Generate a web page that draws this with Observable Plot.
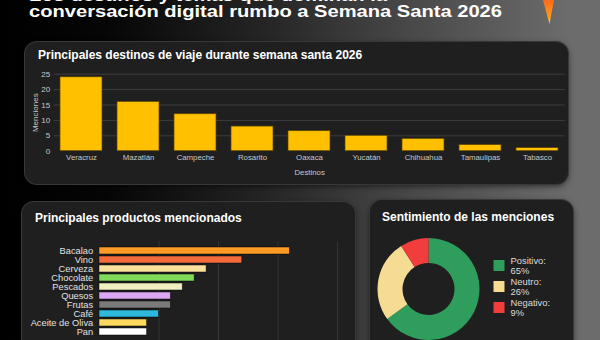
<!DOCTYPE html>
<html><head><meta charset="utf-8">
<script src="https://cdn.jsdelivr.net/npm/d3@7"></script>
<script src="https://cdn.jsdelivr.net/npm/@observablehq/plot@0.6"></script>
<style>
html,body{margin:0;padding:0;}
body{width:600px;height:340px;overflow:hidden;position:relative;
  background:linear-gradient(90deg,#000 0%,#060606 18%,#262626 45%,#444 65%,#6c6c6c 95%);
  font-family:"Liberation Sans",Arial,sans-serif;}
.panel{position:absolute;background:#1f1f1f;border-radius:12px;box-shadow:0 0 0 1px #383838,0 2px 6px rgba(0,0,0,.6);}
.ptitle{position:absolute;color:#fff;font-weight:bold;font-size:12px;line-height:12px;white-space:nowrap;}
.chart{position:absolute;}
#header{position:absolute;left:0;top:0;}
</style></head><body>
<svg id="header" width="600" height="30">
  <defs><linearGradient id="fl" x1="0" x2="0" y1="0" y2="1"><stop offset="0" stop-color="#ff6a1a"/><stop offset="0.7" stop-color="#ff9a1a"/><stop offset="1" stop-color="#ffd640"/></linearGradient></defs>
  <text x="29" y="0.6" fill="#fff" font-family="Liberation Sans, Arial, sans-serif" font-weight="bold" font-size="17" textLength="358" lengthAdjust="spacingAndGlyphs">Los destinos y temas que dominan la</text>
  <text x="29" y="17.3" fill="#fff" font-family="Liberation Sans, Arial, sans-serif" font-weight="bold" font-size="17" textLength="473" lengthAdjust="spacingAndGlyphs">conversación digital rumbo a Semana Santa 2026</text>
  <path d="M543,0 L554,0 L549.5,24 Z" fill="url(#fl)"/>
</svg>
<div class="panel" style="left:25px;top:42px;width:543px;height:142px;"></div>
<div class="panel" style="left:22px;top:202px;width:333px;height:160px;"></div>
<div class="panel" style="left:370px;top:200px;width:203px;height:160px;"></div>
<div class="ptitle" style="left:38px;top:49.4px;">Principales destinos de viaje durante semana santa 2026</div>
<div class="ptitle" style="left:35px;top:211.5px;">Principales productos mencionados</div>
<div class="ptitle" style="left:382px;top:210.8px;">Sentimiento de las menciones</div>
<div class="chart" id="c1" style="left:0;top:60px;"></div>
<div class="chart" id="c2" style="left:0;top:230px;"></div>
<div class="chart" id="c3" style="left:370px;top:228px;"></div>
<script>
// Data
const destinos = ["Veracruz","Mazatlán","Campeche","Rosarito","Oaxaca","Yucatán","Chihuahua","Tamaulipas","Tabasco"];
const menciones = [24,16,12,8,6.5,5,4,2,1];
const yTicks1 = [0,5,10,15,20,25];

const productos = ["Bacalao","Vino","Cerveza","Chocolate","Pescados","Quesos","Frutas","Café","Aceite de Oliva","Pan"];
const productoValores = [16,12,9,8,7,6,6,5,4,4];
const productoColores = ["#ff9a26","#f56a3a","#fbe19e","#7fd95a","#efefc0","#dba6f2","#7a7a7a","#2db8dc","#fcd95e","#ffffff"];
const xTicks2 = [5,10,15,20];

const sentimientos = ["Positivo","Neutro","Negativo"];
const sentPct = [65,26,9];
const sentColores = ["#2f9e5c","#f6dc92","#f23d3d"];

const font = "Liberation Sans, Arial, sans-serif";

// Chart 1
const d1 = destinos.map((d,i)=>({destino:d, menciones:menciones[i]}));
document.getElementById("c1").append(Plot.plot({
  width:600, height:125, marginTop:13.7, marginBottom:34.3, marginLeft:53.6, marginRight:35.3,
  style:{background:"transparent", color:"#c8c8c8", fontFamily:font, fontSize:"7.5px", overflow:"visible"},
  x:{domain:destinos, paddingInner:0.265, paddingOuter:0.1},
  y:{domain:[0,25]},
  marks:[
    Plot.gridY(yTicks1.slice(1), {stroke:"#4a4a4a", strokeOpacity:1, strokeWidth:0.7}),
    Plot.barY(d1, {x:"destino", y:"menciones", fill:"#ffc000", stroke:"#5a4300", strokeWidth:0.7}),
    Plot.axisX({tickSize:0, tickPadding:3, label:"Destinos", labelAnchor:"center", labelArrow:false, labelOffset:24, fontSize:7.8}),
    Plot.axisY(yTicks1, {tickSize:0, tickPadding:4, label:"Menciones", labelAnchor:"center", labelArrow:false, labelOffset:22, fontSize:8})
  ]
}));

// Chart 2
const d2 = productos.map((p,i)=>({producto:p, valor:productoValores[i]}));
document.getElementById("c2").append(Plot.plot({
  width:360, height:130, marginTop:11.3, marginBottom:20, marginLeft:99, marginRight:23,
  style:{background:"transparent", color:"#e2e2e2", fontFamily:font, fontSize:"9.3px", overflow:"visible"},
  x:{domain:[0,20], axis:null},
  y:{domain:productos, paddingInner:0.26, paddingOuter:0.1},
  color:{type:"ordinal", domain:productos, range:productoColores},
  marks:[
    Plot.gridX(xTicks2, {stroke:"#3a3a3a", strokeOpacity:1, strokeWidth:0.8}),
    Plot.barX(d2, {x:"valor", y:"producto", fill:"producto", stroke:"#000", strokeOpacity:0.6, strokeWidth:0.8}),
    Plot.axisY({tickSize:0, tickPadding:6.3, label:null, fontSize:9.3})
  ]
}));

// Chart 3 (donut + legend)
const d3data = sentimientos.map((s,i)=>({nombre:s, pct:sentPct[i]}));
function donut(index, scales) {
  const g = d3.create("svg:g").attr("transform","translate(58.5,61)");
  const arcs = d3.pie().sort(null).value(d=>d.pct)(d3data);
  const arc = d3.arc().innerRadius(26).outerRadius(51);
  g.selectAll("path").data(arcs).join("path").attr("d", arc).attr("fill", d=>scales.color(d.data.nombre));
  return g.node();
}
document.getElementById("c3").append(Plot.plot({
  width:203, height:112, marginTop:0, marginBottom:0, marginLeft:0, marginRight:0,
  style:{background:"transparent", color:"#ddd", fontFamily:font, overflow:"visible"},
  y:{type:"point", domain:sentimientos, range:[25,90.7], axis:null},
  color:{type:"ordinal", domain:sentimientos, range:sentColores},
  marks:[
    donut,
    Plot.dot(d3data, {y:"nombre", fill:"nombre", symbol:"square", r:6.2, frameAnchor:"left", dx:128.5}),
    Plot.text(d3data, {y:"nombre", text:d=>`${d.nombre}:\n${d.pct}%`, frameAnchor:"left", dx:140, textAnchor:"start", lineAnchor:"middle", lineHeight:1.05, fontSize:9.4, fill:"#dcdcdc"})
  ]
}));
</script>
</body></html>
